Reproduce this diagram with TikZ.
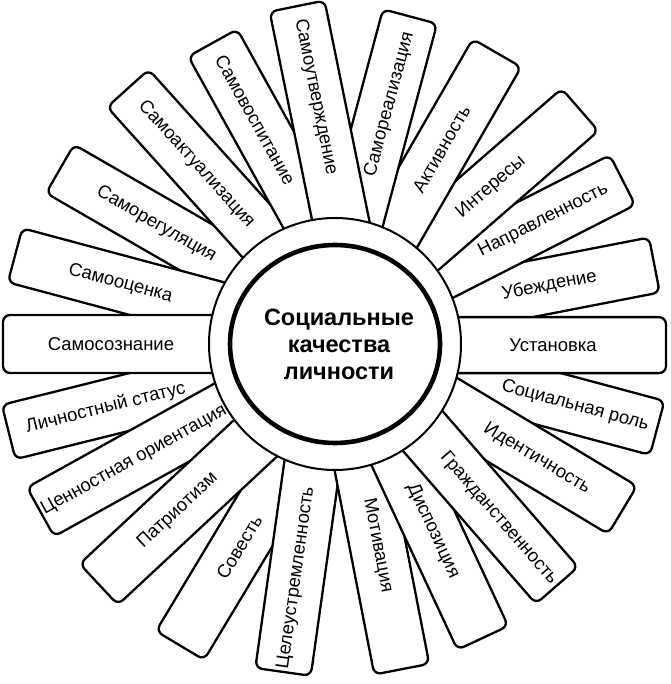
\documentclass[tikz,border=0pt]{standalone}
\usepackage{fontspec}
\setmainfont{Liberation Sans}
\tikzset{
  qbox/.style={draw=black, fill=white, line width=2.3pt, rounded corners=7pt},
  qlabel/.style={font=\fontsize{18.5}{20}\selectfont, inner sep=0pt},
}
\begin{document}
\begin{tikzpicture}[x=1pt, y=1pt]
    \useasboundingbox (-335,-340) rectangle (335,344);
    % Petals, lowest first
    \draw[qbox, shift={(147.5:326)}, rotate=150] (-240,-28) rectangle (0,28)
        (-111,0) node[qlabel, rotate=-30] (sreg) {Саморегуляция};
    \draw[qbox, shift={(164.5:332)}, rotate=165] (-240,-28) rectangle (0,28)
        (-109,0) node[qlabel, rotate=-15] (socen) {Самооценка};
    \draw[qbox, shift={(195.1:338)}, rotate=194] (-240,-28) rectangle (0,28)
        (-100,0) node[qlabel, rotate=14] (lstat) {Личностный статус};
    \draw[qbox, shift={(180:332)}, rotate=180] (-240,-29) rectangle (0,29)
        (-108,0) node[qlabel] (ssozn) {Самосознание};
    \draw[qbox, shift={(209.7:339)}, rotate=209] (-240,-28) rectangle (0,28)
        (-107,0) node[qlabel, rotate=29] (corient) {Ценностная ориентация};
    \draw[qbox, shift={(242.8:339)}, rotate=239] (-240,-28) rectangle (0,28)
        (-115,0) node[qlabel, rotate=59] (sovest) {Совесть};
    \draw[qbox, shift={(225.5:337)}, rotate=223] (-240,-28) rectangle (0,28)
        (-108,0) node[qlabel, rotate=43] (patr) {Патриотизм};
    \draw[qbox, shift={(261:332)}, rotate=262] (-240,-28) rectangle (0,28)
        (-95,0) node[qlabel, rotate=82] (celeus) {Целеустремленность};
    %
    \draw[qbox, shift={(281.6:332)}, rotate=281] (-240,-28) rectangle (0,28)
        (-126,0) node[qlabel, rotate=-79] (motiv) {Мотивация};
    \draw[qbox, shift={(296.7:329)}, rotate=295] (-240,-28) rectangle (0,28)
        (-118,0) node[qlabel, rotate=-65] (disp) {Диспозиция};
    \draw[qbox, shift={(345.4:333)}, rotate=345] (-240,-28) rectangle (0,28)
        (-85,0) node[qlabel, rotate=-15] (srol) {Социальная роль};
    \draw[qbox, shift={(330:332)}, rotate=329] (-240,-28) rectangle (0,28)
        (-100,0) node[qlabel, rotate=-31] (ident) {Идентичность};
    \draw[qbox, shift={(312.6:328)}, rotate=311] (-240,-28) rectangle (0,28)
        (-89,0) node[qlabel, rotate=-49] (grazhd) {Гражданственность};
    \draw[qbox, shift={(13.9:329)}, rotate=11] (-240,-28) rectangle (0,28)
        (-107,0) node[qlabel, rotate=11] (ubezhd) {Убеждение};
    \draw[qbox, shift={(-0.2:331)}, rotate=0] (-240,-28) rectangle (0,28)
        (-113,0) node[qlabel] (ustan) {Установка};
    \draw[qbox, shift={(29.7:331)}, rotate=27] (-240,-28) rectangle (0,28)
        (-89,0) node[qlabel, rotate=27] (naprav) {Направленность};
    \draw[qbox, shift={(43.7:339)}, rotate=41] (-240,-28) rectangle (0,28)
        (-118,0) node[qlabel, rotate=41] (inter) {Интересы};
    \draw[qbox, shift={(60.9:333)}, rotate=60] (-240,-28) rectangle (0,28)
        (-111,0) node[qlabel, rotate=60] (aktiv) {Активность};
    \draw[qbox, shift={(77.1:336)}, rotate=75] (-240,-28) rectangle (0,28)
        (-90,-3) node[qlabel, rotate=75] (sreal) {Самореализация};
    \draw[qbox, shift={(129:329)}, rotate=132] (-240,-28) rectangle (0,28)
        (-102,0) node[qlabel, rotate=-48] (sakt) {Самоактуализация};
    \draw[qbox, shift={(112.1:325)}, rotate=119] (-240,-28) rectangle (0,28)
        (-88,0) node[qlabel, rotate=-61] (svosp) {Самовоспитание};
    \draw[qbox, shift={(96.4:340)}, rotate=101.5] (-240,-28) rectangle (0,28)
        (-93,0) node[qlabel, rotate=-78.5] (sutv) {Самоутверждение};
    % Hub
    \draw[line width=2pt, fill=white] (0,0) circle (126);
    \draw[line width=4.6pt] (0,0) ellipse (105 and 99);
    \node[font=\bfseries\fontsize{23.5}{27}\selectfont, align=center] (core) at (4,0)
        {Социальные\\качества\\личности};
\end{tikzpicture}
\end{document}
